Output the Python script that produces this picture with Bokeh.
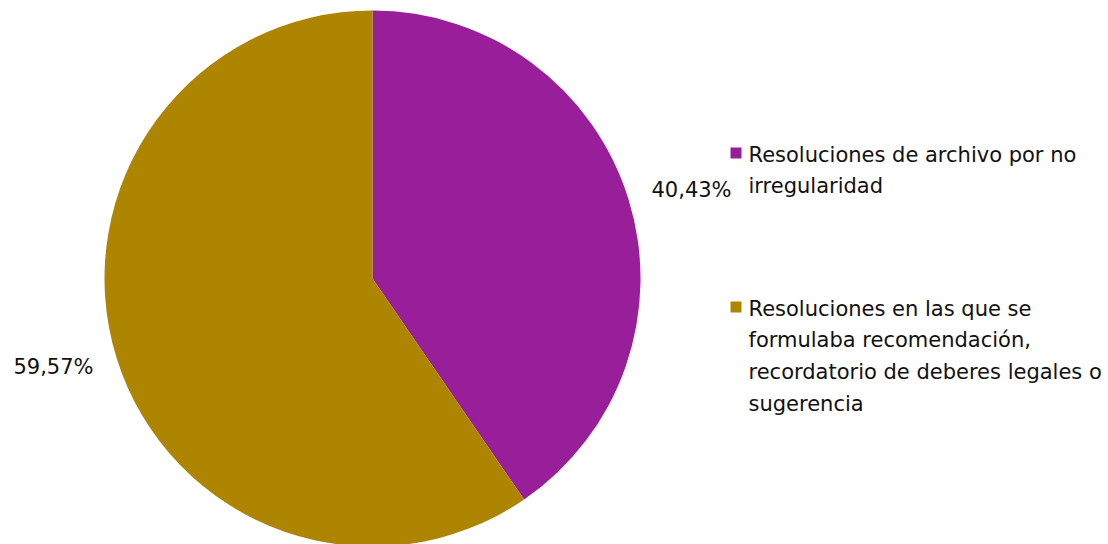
import math
from bokeh.plotting import figure
from bokeh.models import ColumnDataSource
from bokeh.core.properties import value
from bokeh.embed import file_html
from bokeh.resources import INLINE

categories = ["Resoluciones de archivo por no\nirregularidad",
              "Resoluciones en las que se\nformulaba recomendación,\nrecordatorio de deberes legales o\nsugerencia"]
values = [40.43, 59.57]
labels = ["40,43%", "59,57%"]
colors = ["#991E99", "#AD8500"]

W, H = 1108, 544
p = figure(width=W, height=H, x_range=(0, W), y_range=(0, H),
           output_backend="svg", toolbar_location=None, min_border=0)
p.axis.visible = False
p.grid.visible = False
p.outline_line_color = None
p.background_fill_color = "white"

cx, cy, R = 372, H - 278, 268
total = sum(values)
starts, ends, lx, ly = [], [], [], []
acc = 0.0
for v in values:
    a0 = math.pi / 2 - 2 * math.pi * acc / total
    a1 = math.pi / 2 - 2 * math.pi * (acc + v) / total
    starts.append(a0)
    ends.append(a1)
    mid = (a0 + a1) / 2
    lx.append(cx + 334 * math.cos(mid))
    ly.append(cy + 300 * math.sin(mid))
    acc += v

src = ColumnDataSource(dict(start=starts, end=ends, color=colors, lx=lx, ly=ly, lab=labels))
p.wedge(x=cx, y=cy, radius=R, start_angle="end", end_angle="start",
        fill_color="color", line_color=None, source=src)
p.text(x="lx", y="ly", text="lab", source=src, text_align="center",
       text_baseline="middle", text_font=value("DejaVu Sans"),
       text_font_size="21px", text_color="#111111")

# legend
leg_x = 730
leg_y = [H - 142, H - 296]
p.rect(x=[leg_x + 5.5] * 2, y=[H - 152.5, H - 306.5], width=11, height=11,
       fill_color=colors, line_color=None)
p.text(x=[leg_x + 18] * 2, y=leg_y, text=categories, text_align="left",
       text_baseline="top", text_font=value("DejaVu Sans"),
       text_font_size="21px", text_line_height=1.33, text_color="#111111")

open("out.html", "w").write(file_html(p, INLINE))
